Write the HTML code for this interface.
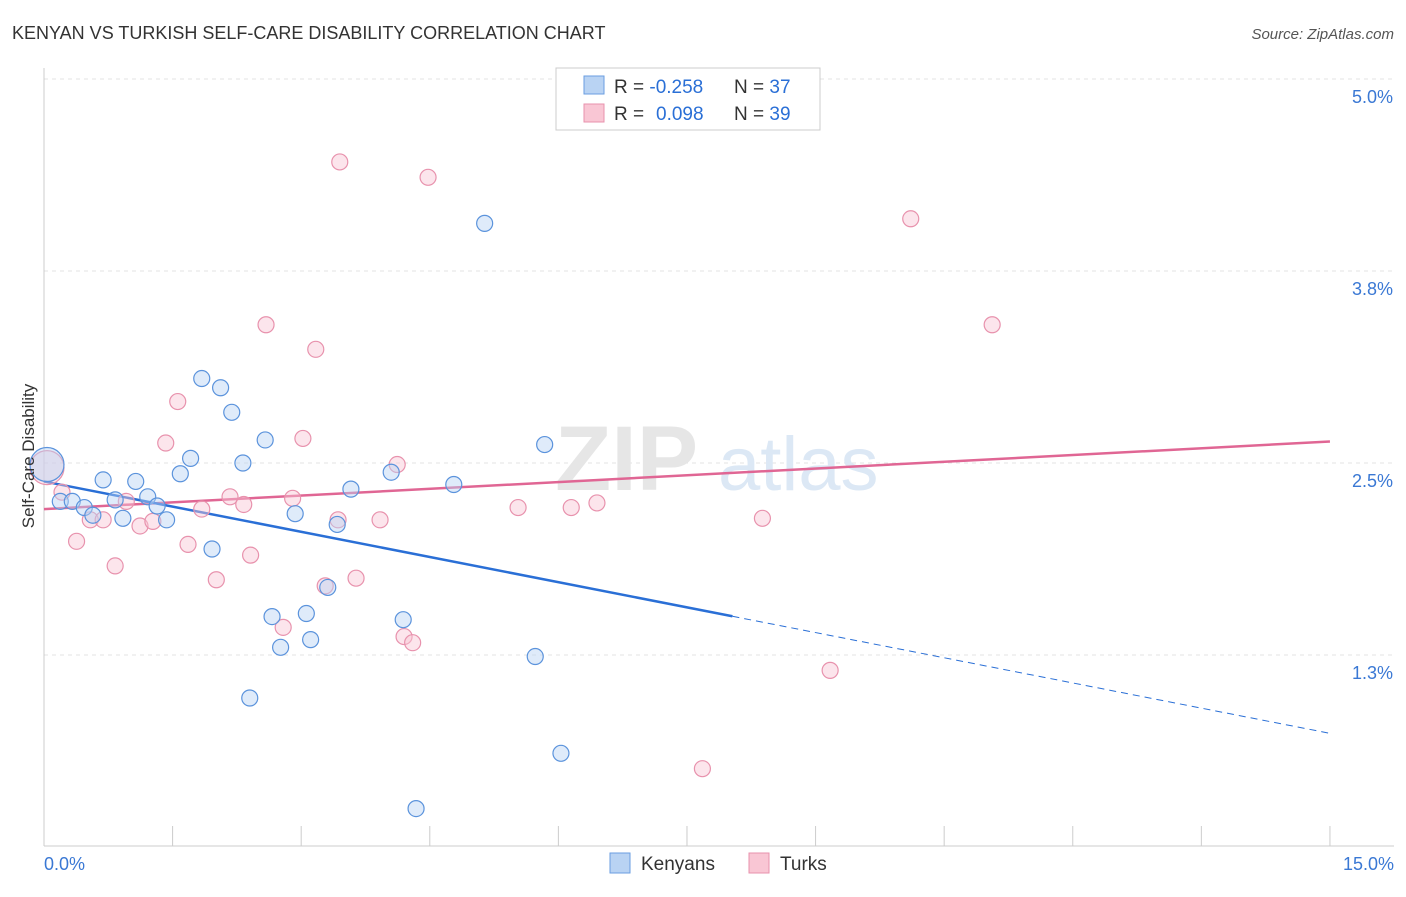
<!DOCTYPE html>
<html><head><meta charset="utf-8"><style>
body{margin:0;background:#fff;font-family:"Liberation Sans",sans-serif;}
svg text{font-family:"Liberation Sans",sans-serif;}
</style></head><body>
<svg id="chart" width="1406" height="892" xmlns="http://www.w3.org/2000/svg">
<text x="12" y="39" font-size="18" fill="#333">KENYAN VS TURKISH SELF-CARE DISABILITY CORRELATION CHART</text>
<text x="1394" y="39" font-size="15" fill="#555" text-anchor="end" font-style="italic">Source: ZipAtlas.com</text>
<g id="grid"></g>
<g><text x="555" y="490" font-size="92" fill="#e6e6e6" font-family="Liberation Serif" font-weight="bold">ZIP</text><text x="718" y="490" font-size="76" fill="#dce8f5">atlas</text></g>
<g id="axes"></g>
<g id="trends"></g>
<g id="points"></g>
<text transform="translate(34,456) rotate(-90)" font-size="17" fill="#333" text-anchor="middle">Self-Care Disability</text>
<g>
<rect x="556" y="68" width="264" height="62" fill="#fff" stroke="#ccc"/>
<rect x="584" y="76" width="20" height="18" fill="#b9d3f3" stroke="#6a9ee0"/>
<rect x="584" y="104" width="20" height="18" fill="#f9c6d4" stroke="#e892ad"/>
<text x="614" y="93" font-size="19" fill="#333">R = <tspan fill="#2a6fd6">-0.258</tspan><tspan x="734">N = </tspan><tspan fill="#2a6fd6">37</tspan></text>
<text x="614" y="120" font-size="19" fill="#333">R = <tspan fill="#2a6fd6" x="656">0.098</tspan><tspan x="734">N = </tspan><tspan fill="#2a6fd6">39</tspan></text>
</g>
<g>
<rect x="610" y="853" width="20" height="20" fill="#b9d3f3" stroke="#6a9ee0"/>
<text x="641" y="870" font-size="19" fill="#333">Kenyans</text>
<rect x="749" y="853" width="20" height="20" fill="#f9c6d4" stroke="#e892ad"/>
<text x="780" y="870" font-size="19" fill="#333">Turks</text>
</g>
</svg>
<script>
const yTicks=[5.0,3.75,2.5,1.25];
const yTickLabels=["5.0%","3.8%","2.5%","1.3%"];
const xTickLabels=["0.0%","15.0%"];
const kenyanX=[0.035,0.19,0.33,0.47,0.57,0.69,0.83,0.92,1.07,1.21,1.32,1.43,1.59,1.71,1.84,1.96,2.06,2.19,2.32,2.58,2.66,2.76,2.93,3.06,3.11,3.31,3.42,3.58,4.05,4.19,4.34,4.78,5.14,5.73,5.84,6.03,2.40];
const kenyanY=[2.49,2.25,2.25,2.21,2.16,2.39,2.26,2.14,2.38,2.28,2.22,2.13,2.43,2.53,3.05,1.94,2.99,2.83,2.50,2.65,1.50,1.30,2.17,1.52,1.35,1.69,2.10,2.33,2.44,1.48,0.25,2.36,4.06,1.24,2.62,0.61,0.97];
const turkX=[0.035,0.21,0.38,0.54,0.69,0.83,0.96,1.12,1.27,1.42,1.56,1.68,1.84,2.01,2.17,2.33,2.41,2.59,2.79,2.90,3.02,3.17,3.28,3.45,3.43,3.64,3.92,4.12,4.20,4.30,4.48,5.53,6.15,6.45,7.68,8.38,9.17,10.11,11.06];
const turkY=[2.47,2.31,1.99,2.13,2.13,1.83,2.25,2.09,2.12,2.63,2.90,1.97,2.20,1.74,2.28,2.23,1.90,3.40,1.43,2.27,2.66,3.24,1.70,4.46,2.13,1.75,2.13,2.49,1.37,1.33,4.36,2.21,2.21,2.24,0.51,2.14,1.15,4.09,3.40];
const kenyanTrend=[2.38,0.74];
const turkTrend=[2.20,2.64];
const kenyanSolidEnd=8.03;

const X=v=>44+v*85.73;
const Y=v=>79+(5-v)*153.6;
const NS="http://www.w3.org/2000/svg";
function mk(t,a,p){const e=document.createElementNS(NS,t);for(const k in a)e.setAttribute(k,a[k]);p.appendChild(e);return e;}
const grid=document.getElementById('grid'),axes=document.getElementById('axes');
yTicks.forEach((t,i)=>{
 const l=mk('line',{x1:44,x2:1394,y1:Y(t),y2:Y(t),stroke:'#e3e3e3','stroke-dasharray':'4,4'},grid);
 
 
 const tx=mk('text',{x:1393,y:Y(t)+24,'font-size':18,fill:'#3a78d4','text-anchor':'end'},axes);
 tx.textContent=yTickLabels[i];
 
 
});
mk('line',{x1:44,x2:44,y1:68,y2:846,stroke:'#ccc'},axes);
mk('line',{x1:44,x2:1394,y1:846,y2:846,stroke:'#ccc'},axes);
for(let i=0;i<=10;i++){const x=X(i*1.5);mk('line',{x1:x,x2:x,y1:826,y2:846,stroke:'#ccc'},axes);}
[[0,'start',44],[15,'end',1394]].forEach((d,i)=>{
 const tx=mk('text',{x:d[2],y:870,'font-size':18,fill:'#3a78d4','text-anchor':d[1]},axes);
 tx.textContent=xTickLabels[i];
 
 
});
const tr=document.getElementById('trends');
const kAt=x=>kenyanTrend[0]+(kenyanTrend[1]-kenyanTrend[0])*x/15;
const pl=mk('line',{x1:X(0),y1:Y(turkTrend[0]),x2:X(15),y2:Y(turkTrend[1]),stroke:'#e06694','stroke-width':2.5},tr);


const bl=mk('line',{x1:X(0),y1:Y(kAt(0)),x2:X(kenyanSolidEnd),y2:Y(kAt(kenyanSolidEnd)),stroke:'#2a6fd6','stroke-width':2.5},tr);


const bd=mk('line',{x1:X(kenyanSolidEnd),y1:Y(kAt(kenyanSolidEnd)),x2:X(15),y2:Y(kAt(15)),stroke:'#2a6fd6','stroke-width':1,'stroke-dasharray':'7,5'},tr);


const pts=document.getElementById('points');
function draw(xs,ys,fill,stroke,name){xs.forEach((x,i)=>{
 const c=mk('circle',{cx:X(x),cy:Y(ys[i]),r:i===0?17:8,fill:fill,'fill-opacity':0.45,stroke:stroke,'stroke-width':1.2},pts);
 
 
});}
draw(turkX,turkY,'#f9c6d4','#e892ad','turk-point');
draw(kenyanX,kenyanY,'#b9d3f3','#5b93dc','kenyan-point');
</script>
</body></html>
